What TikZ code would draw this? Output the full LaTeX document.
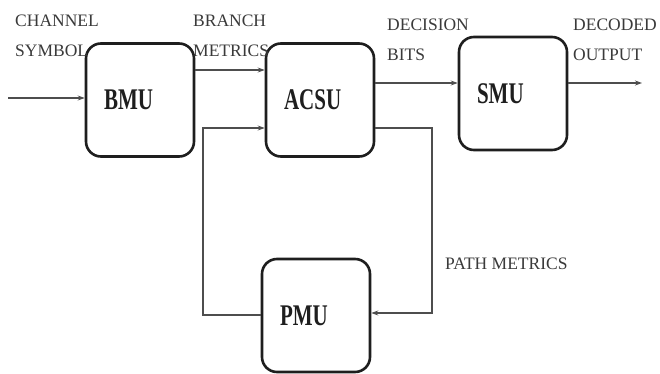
\documentclass[tikz,border=0pt]{standalone}
\usepackage{fontspec}
\setmainfont{Liberation Serif}
\newfontfamily\unitfont[FakeStretch=0.7]{Liberation Serif}
\usetikzlibrary{arrows.meta}
\definecolor{boxline}{HTML}{1E1E1E}
\definecolor{wire}{HTML}{4E4E4E}
\definecolor{lbl}{HTML}{3A3A3A}
\tikzset{
  unit/.style={draw=boxline, line width=2.6pt, rounded corners=15pt,
    minimum height=113pt, text width=72pt, inner xsep=18pt, align=left,
    text=boxline, font=\unitfont\bfseries\fontsize{30}{32}\selectfont},
  wirearrow/.style={draw=wire, line width=1.6pt, -{Stealth[length=7pt,width=5pt]}},
  tag/.style={inner sep=0pt, anchor=north west, align=left, text=lbl,
    font=\fontsize{17.5}{30}\selectfont},
}
\begin{document}
\begin{tikzpicture}[x=1pt, y=1pt]
\useasboundingbox (0,0) rectangle (660,-374);
\fill[white] (0,0) rectangle (660,-374);
\node[unit] (U_BMU) at (140,-100) {BMU};
\node[unit] (U_ACSU) at (320,-100) {ACSU};
\node[unit] (U_SMU) at (513,-93.5) {SMU};
\node[unit] (U_PMU) at (316,-315.5) {PMU};
\coordinate (C_in) at (8,-98);
\draw[wirearrow] (C_in) -- (C_in -| U_BMU.west);
\coordinate (C_bm) at (0,-70);
\draw[wirearrow] (C_bm -| U_BMU.east) -- (C_bm -| U_ACSU.west);
\coordinate (C_db) at (0,-83);
\draw[wirearrow] (C_db -| U_ACSU.east) -- (C_db -| U_SMU.west);
\coordinate (C_out) at (642,-83);
\draw[wirearrow] (C_out -| U_SMU.east) -- (C_out);
\coordinate (C_r1) at (432,-128);
\coordinate (C_r2) at (432,-313);
\draw[wirearrow] (C_r1 -| U_ACSU.east) -- (C_r1) -- (C_r2) -- (C_r2 -| U_PMU.east);
\coordinate (C_l1) at (203,-315);
\coordinate (C_l2) at (203,-128);
\draw[wirearrow] (C_l1 -| U_PMU.west) -- (C_l1) -- (C_l2) -- (C_l2 -| U_ACSU.west);
\node[tag] (T_chan) at (15,-15) {CHANNEL\\SYMBOL};
\node[tag] (T_branch) at (193,-15) {BRANCH\\METRICS};
\node[tag] (T_dec) at (387,-19) {DECISION\\BITS};
\node[tag] (T_out) at (573,-19) {DECODED\\OUTPUT};
\node[tag] (T_path) at (445,-258) {PATH METRICS};
\end{tikzpicture}
\end{document}
